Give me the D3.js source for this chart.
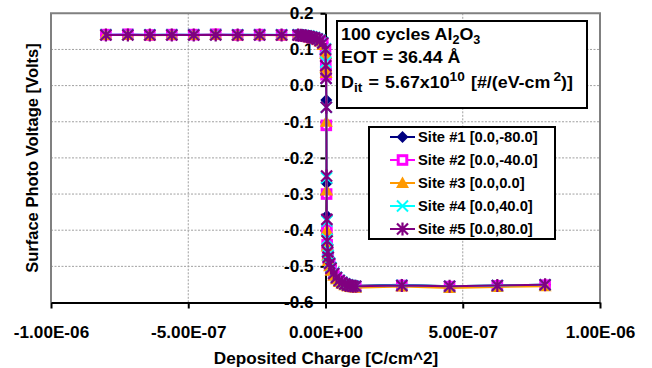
<!DOCTYPE html>
<html><head><meta charset="utf-8">
<script src="https://cdn.jsdelivr.net/npm/d3@7"></script>
<style>
body{margin:0;background:#fff}
text{font-family:"Liberation Sans",Arial,sans-serif;font-weight:bold;fill:#000}
</style>
</head><body><svg id="c" width="652" height="368"></svg>
<script>
// ---------- data ----------
const xTickValues = [-1e-6, -5e-7, 0, 5e-7, 1e-6];
const xTickLabels = ["-1.00E-06", "-5.00E-07", "0.00E+00", "5.00E-07", "1.00E-06"];
const yTickValues = [-0.6, -0.5, -0.4, -0.3, -0.2, -0.1, 0, 0.1, 0.2];
const yTickLabels = ["-0.6", "-0.5", "-0.4", "-0.3", "-0.2", "-0.1", "0.0", "0.1", "0.2"];

const charge = [-8.0e-7, -7.2e-7, -6.4e-7, -5.6e-7, -4.8e-7, -4.0e-7, -3.2e-7, -2.4e-7, -1.6e-7,
  -1.0e-7, -9e-8, -8e-8, -7e-8, -6e-8, -5e-8, -4e-8, -3e-8, -2e-8, -1e-8,
  0,
  1e-9, 2e-9, 3e-9, 4e-9, 5e-9, 6e-9, 8e-9,
  1e-8, 1.5e-8, 2e-8, 3e-8, 4e-8, 5e-8, 6e-8, 7e-8, 8e-8, 9e-8, 1e-7, 1.1e-7,
  2.78e-7, 4.52e-7, 6.26e-7, 8.0e-7];

const site1 = [0.140,0.141,0.140,0.141,0.140,0.140,0.141,0.140,0.140,
  0.140,0.139,0.138,0.137,0.136,0.134,0.132,0.129,0.125,0.118,
  0.100,
  0.075,0.045,-0.040,-0.270,-0.360,-0.410,-0.440,
  -0.460,-0.482,-0.498,-0.515,-0.527,-0.536,-0.542,-0.547,-0.550,-0.552,-0.553,-0.554,
  -0.551,-0.555,-0.553,-0.551];
const site2 = [0.141,0.142,0.140,0.141,0.141,0.142,0.140,0.141,0.140,
  0.140,0.139,0.138,0.137,0.135,0.133,0.131,0.128,0.124,0.116,
  0.095,
  0.060,0.030,-0.110,-0.300,-0.400,-0.440,-0.465,
  -0.478,-0.495,-0.508,-0.522,-0.532,-0.540,-0.545,-0.549,-0.552,-0.554,-0.555,-0.556,
  -0.553,-0.556,-0.554,-0.552];
const site3 = [0.140,0.140,0.139,0.140,0.140,0.141,0.139,0.140,0.139,
  0.139,0.138,0.137,0.136,0.134,0.132,0.130,0.127,0.122,0.112,
  0.088,
  0.050,0.035,-0.100,-0.290,-0.400,-0.445,-0.470,
  -0.485,-0.500,-0.512,-0.526,-0.536,-0.543,-0.548,-0.552,-0.555,-0.557,-0.558,-0.559,
  -0.556,-0.560,-0.557,-0.555];
const site4 = [0.141,0.141,0.141,0.141,0.141,0.141,0.141,0.141,0.141,
  0.141,0.140,0.139,0.138,0.137,0.135,0.133,0.130,0.126,0.119,
  0.102,
  0.065,0.020,-0.060,-0.255,-0.375,-0.425,-0.455,
  -0.470,-0.490,-0.503,-0.518,-0.530,-0.538,-0.544,-0.548,-0.551,-0.553,-0.554,-0.555,
  -0.552,-0.555,-0.553,-0.551];
const site5 = [0.140,0.140,0.140,0.140,0.140,0.140,0.140,0.140,0.140,
  0.140,0.139,0.138,0.137,0.136,0.134,0.132,0.129,0.125,0.118,
  0.100,
  0.055,0.020,-0.060,-0.250,-0.370,-0.430,-0.460,
  -0.475,-0.492,-0.505,-0.520,-0.531,-0.539,-0.545,-0.549,-0.552,-0.554,-0.555,-0.555,
  -0.553,-0.555,-0.553,-0.551];

const seriesNames = ["Site #1 [0.0,-80.0]", "Site #2 [0.0,-40.0]", "Site #3 [0.0,0.0]", "Site #4 [0.0,40.0]", "Site #5 [0.0,80.0]"];
const seriesValues = [site1, site2, site3, site4, site5];
const seriesColors = ["#000080", "#FF00FF", "#FF9900", "#00FFFF", "#800080"];
const seriesMarkers = ["diamond", "square", "triangle", "x", "star"];

// ---------- layout ----------
const SX = 1.04; // slight horizontal text stretch of the reference
const svg = d3.select("#c");
const x = d3.scaleLinear().domain([-1e-6, 1e-6]).range([51, 600]);
const y = d3.scaleLinear().domain([-0.6, 0.2]).range([302.5, 13.3]);

function stretch(sel) {
  sel.each(function() {
    const t = d3.select(this);
    const xv = +(t.attr("x") || 0);
    t.attr("x", xv / SX).attr("transform", `scale(${SX},1)`);
  });
}

// gridlines
const grid = svg.append("g").attr("stroke", "#a0a0a0").attr("stroke-width", 1).attr("stroke-dasharray", "2,1.5");
grid.selectAll("line.h").data(yTickValues.filter(v => v > -0.55 && v < 0.15)).join("line")
  .attr("x1", x(-1e-6)).attr("x2", x(1e-6)).attr("y1", d => y(d)).attr("y2", d => y(d));
grid.selectAll("line.v").data(xTickValues.filter(v => v !== 0 && Math.abs(v) < 9e-7)).join("line")
  .attr("x1", d => x(d)).attr("x2", d => x(d)).attr("y1", y(0.2)).attr("y2", y(-0.6));

// plot border (left/top/right)
svg.append("path")
  .attr("d", `M${x(-1e-6)},${y(-0.6)}V${y(0.2)}H${x(1e-6)}V${y(-0.6)}`)
  .attr("fill", "none").attr("stroke", "#808080").attr("stroke-width", 2);

// x axis
const gx = svg.append("g").attr("transform", `translate(0,${y(-0.6)})`)
  .call(d3.axisBottom(x).tickValues(xTickValues).tickFormat((d, i) => xTickLabels[i]).tickSize(6).tickSizeOuter(0).tickPadding(18));
gx.select(".domain").attr("stroke", "#000").attr("stroke-width", 2);
gx.selectAll(".tick line").attr("stroke", "#000").attr("stroke-width", 2);
gx.selectAll("text").attr("font-size", 16.5).attr("font-family", null).call(stretch);

// y axis
const gy = svg.append("g").attr("transform", `translate(${x(0)},0)`)
  .call(d3.axisLeft(y).tickValues(yTickValues).tickFormat((d, i) => yTickLabels[i]).tickSize(5).tickSizeOuter(0).tickPadding(7));
gy.select(".domain").attr("stroke", "#000").attr("stroke-width", 2);
gy.selectAll(".tick line").attr("stroke", "#000").attr("stroke-width", 2);
gy.selectAll("text").attr("font-size", 16.5).attr("font-family", null).call(stretch);

// axis titles
svg.append("text").attr("transform", `translate(326,364) scale(${SX},1)`)
  .attr("text-anchor", "middle").attr("font-size", 16.5).text("Deposited Charge [C/cm^2]");
svg.append("text").attr("transform", `translate(32,158) scale(${SX},1) rotate(-90)`)
  .attr("text-anchor", "middle").attr("dy", "0.35em").attr("font-size", 16.5).text("Surface Photo Voltage [Volts]");

// markers
function marker(g, type, color) {
  if (type === "diamond") g.append("path").attr("d", "M0,-6L6,0L0,6L-6,0Z").attr("fill", color);
  else if (type === "square") g.append("rect").attr("x", -4.3).attr("y", -4.3).attr("width", 8.6).attr("height", 8.6)
    .attr("fill", "#fff").attr("stroke", color).attr("stroke-width", 3);
  else if (type === "triangle") g.append("path").attr("d", "M0,-6.5L6.5,5L-6.5,5Z").attr("fill", color);
  else if (type === "x") g.append("path").attr("d", "M-5.5,-5.5L5.5,5.5M-5.5,5.5L5.5,-5.5").attr("stroke", color).attr("stroke-width", 2);
  else if (type === "star") g.append("path").attr("d", "M-5.5,-5.5L5.5,5.5M-5.5,5.5L5.5,-5.5M0,-6.5L0,6.5").attr("stroke", color).attr("stroke-width", 2.2);
}

// series
const line = d3.line().x(d => x(d[0])).y(d => y(d[1]));
seriesValues.forEach((vals, si) => {
  const pts = charge.map((c, i) => [c, vals[i]]);
  const g = svg.append("g");
  g.append("path").attr("d", line(pts)).attr("fill", "none").attr("stroke", seriesColors[si]).attr("stroke-width", 2);
  g.selectAll("g.m").data(pts).join("g").attr("class", "m")
    .attr("transform", d => `translate(${x(d[0])},${y(d[1])})`)
    .each(function() { marker(d3.select(this), seriesMarkers[si], seriesColors[si]); });
});

// annotation box
svg.append("rect").attr("x", 337).attr("y", 21).attr("width", 250).attr("height", 87)
  .attr("fill", "#fff").attr("stroke", "#000").attr("stroke-width", 2);
const ann = svg.append("g").attr("transform", `translate(341,0) scale(1.05,1)`).attr("font-size", 17);
const t1 = ann.append("text").attr("y", 40);
t1.append("tspan").text("100 cycles Al");
t1.append("tspan").attr("dy", 4).attr("font-size", 12).text("2");
t1.append("tspan").attr("dy", -4).text("O");
t1.append("tspan").attr("dy", 4).attr("font-size", 12).text("3");
ann.append("text").attr("y", 63).text("EOT = 36.44 Å");
const t3 = ann.append("text").attr("y", 88).attr("word-spacing", 1.2);
t3.append("tspan").text("D");
t3.append("tspan").attr("dy", 4).attr("font-size", 13).text("it");
t3.append("tspan").attr("dy", -4).text(" = 5.67x10");
t3.append("tspan").attr("dy", -7).attr("font-size", 13).text("10");
t3.append("tspan").attr("dy", 7).text(" [#/(eV-cm");
t3.append("tspan").attr("dy", -7).attr("dx", 3).attr("font-size", 13).text("2");
t3.append("tspan").attr("dy", 7).text(")]");

// legend
svg.append("rect").attr("x", 369).attr("y", 127).attr("width", 186).attr("height", 112)
  .attr("fill", "#fff").attr("stroke", "#000").attr("stroke-width", 2);
seriesNames.forEach((name, i) => {
  const cy = 137 + i * 23;
  const g = svg.append("g");
  g.append("line").attr("x1", 390).attr("x2", 415).attr("y1", cy).attr("y2", cy)
    .attr("stroke", seriesColors[i]).attr("stroke-width", 2);
  const m = g.append("g").attr("transform", `translate(402.5,${cy})`);
  marker(m, seriesMarkers[i], seriesColors[i]);
  g.append("text").attr("transform", `translate(418,${cy + 5}) scale(${SX},1)`)
    .attr("font-size", 14.2).text(name);
});
</script>
</body></html>
